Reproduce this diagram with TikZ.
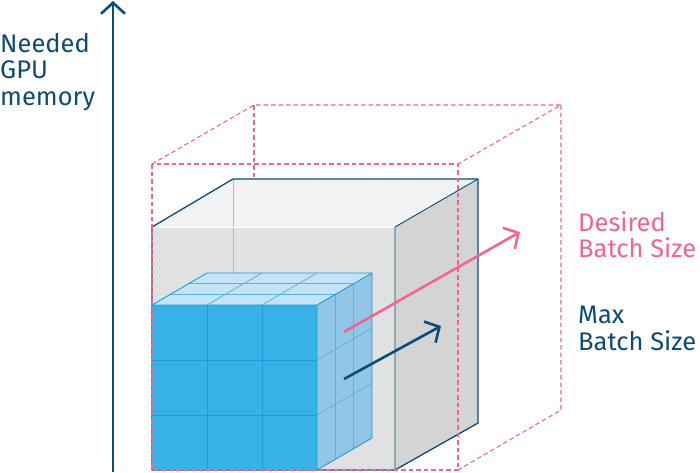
\documentclass[tikz,border=0pt]{standalone}
\usepackage{fontspec}
\setmainfont{Fira Sans}
\usepackage{tikz}
\usetikzlibrary{arrows.meta,positioning,calc}
\definecolor{navy}{HTML}{0D4B78}
\definecolor{rose}{HTML}{F0668F}
\definecolor{boxfront}{HTML}{E0E1E1}
\definecolor{boxtop}{HTML}{F2F3F5}
\definecolor{boxside}{HTML}{D3D4D4}
\definecolor{cubefront}{HTML}{38B2E6}
\definecolor{cubetop}{HTML}{C5E3F7}
\definecolor{cubeside}{HTML}{92C6E6}
\definecolor{cubeline}{HTML}{1E9BDA}
\tikzset{
    edge/.style={draw=navy, line width=1.3pt, line join=round},
    wish/.style={draw=rose, line width=1.1pt, dash pattern=on 4.5pt off 3pt},
    cell/.style={draw=cubeline, line width=0.9pt},
    faint/.style={draw=cubeline!75, line width=0.8pt},
    flow/.style={-{Straight Barb[length=11pt,width=24pt]}, line width=2.6pt},
    lbl/.style={font=\fontsize{25.5}{26.5}\selectfont, align=left, inner sep=0pt, anchor=north west}
}

\begin{document}
\begin{tikzpicture}[x=1pt, y=-1pt]
    \useasboundingbox (0,0) rectangle (700,472);

    % hidden edge of the desired box
    \draw[wish] (254,105) -- (254,300);

    % max box
    \fill[boxtop] (152,227) -- (233,179) -- (478,179) -- (395,227) -- cycle;
    \fill[boxfront] (152,227) rectangle (395,470);
    \fill[boxside] (395,227) -- (478,179) -- (478,423) -- (395,470) -- cycle;
    \draw[gray!55, line width=0.7pt] (233,179) -- (233,300);
    \draw[white, line width=1pt] (152,227) -- (395,227);
    \draw[edge] (152,470) -- (152,227) -- (233,179) -- (478,179) -- (478,423)
        -- (395,470) -- cycle;
    \draw[edge, line width=0.9pt] (395,227) -- (478,179) (395,227) -- (395,470);

    % current batch cube
    \fill[cubetop] (152,305) -- (207,273) -- (372,273) -- (317,305) -- cycle;
    \fill[cubeside] (317,305) -- (372,273) -- (372,438) -- (317,470) -- cycle;
    \fill[cubefront] (152,305) rectangle (317,470);
    \foreach \k in {1,2} {
        \draw[faint] ({152+55*\k/3},{305-32*\k/3}) -- ({317+55*\k/3},{305-32*\k/3});
        \draw[faint] ({152+55*\k},305) -- ({207+55*\k},273);
        \draw[faint] ({317+55*\k/3},{305-32*\k/3}) -- ({317+55*\k/3},{470-32*\k/3});
        \draw[faint] (317,{305+55*\k}) -- (372,{273+55*\k});
        \draw[cell] ({152+55*\k},305) -- ({152+55*\k},470);
        \draw[cell] (152,{305+55*\k}) -- (317,{305+55*\k});
    }
    \draw[cell] (152,470) -- (152,305) -- (207,273) -- (372,273) -- (372,438)
        -- (317,470) -- cycle;
    \draw[cell] (152,305) -- (317,305) -- (372,273) (317,305) -- (317,470);

    % desired box
    \draw[wish] (152,164) rectangle (458,470);
    \draw[wish] (152,164) -- (254,105) -- (561,105) -- (458,164);
    \draw[wish] (561,105) -- (561,410) -- (458,470);

    % arrows
    \coordinate (wantfoot) at (344,332);
    \coordinate (wanttip) at (520,232);
    \coordinate (maxfoot) at (344,379);
    \coordinate (maxtip) at (441,326);
    \coordinate (axisfoot) at (113,472);
    \coordinate (axistop) at (113,1);
    \draw[flow, rose] (wantfoot) -- (wanttip);
    \draw[flow, navy] (maxfoot) -- (maxtip);
    \draw[flow, navy] (axisfoot) -- (axistop);

    % labels
    \node[lbl, text=navy] (memory) at (0,33) {Needed\\GPU\\memory};
    \node[lbl, text=rose] (desired) at (578,211) {Desired\\Batch Size};
    \node[lbl, text=navy] (maxsize) at (578,306) {Max\\Batch Size};
\end{tikzpicture}
\end{document}
